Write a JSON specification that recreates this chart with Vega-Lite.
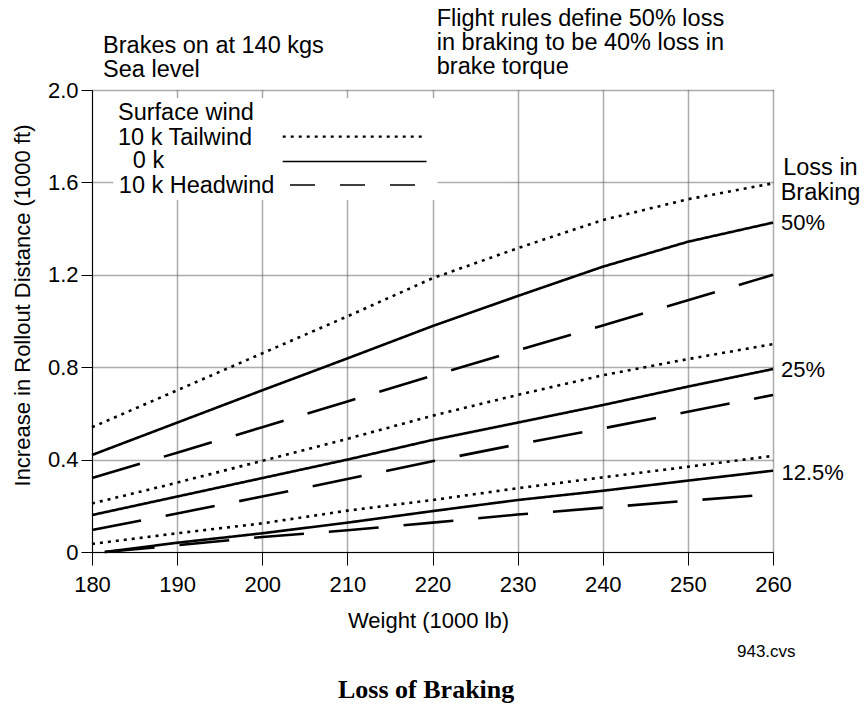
{
  "$schema": "https://vega.github.io/schema/vega-lite/v6.json",
  "autosize": {"type": "none"},
  "padding": {"left": 92, "top": 90, "right": 92, "bottom": 154},
  "width": 681,
  "height": 462,
  "background": "white",
  "config": {
    "view": {"stroke": null},
    "font": "Liberation Sans",
    "axis": {
      "domainColor": "black", "domainWidth": 1,
      "tickColor": "black", "tickWidth": 1,
      "labelColor": "black", "titleColor": "black",
      "labelFont": "Liberation Sans", "titleFont": "Liberation Sans",
      "labelFontSize": 22, "titleFontSize": 22, "titleFontWeight": "normal",
      "grid": true, "gridColor": "#5a5a5a", "gridDash": [1, 1], "gridWidth": 1.5,
      "labelFlush": false, "labelOverlap": false
    }
  },
  "datasets": {
    "curves": [
      {"w": 180, "v": 0.54, "loss": "50%", "wind": "tail"},
      {"w": 190, "v": 0.70, "loss": "50%", "wind": "tail"},
      {"w": 200, "v": 0.86, "loss": "50%", "wind": "tail"},
      {"w": 210, "v": 1.02, "loss": "50%", "wind": "tail"},
      {"w": 220, "v": 1.185, "loss": "50%", "wind": "tail"},
      {"w": 230, "v": 1.315, "loss": "50%", "wind": "tail"},
      {"w": 240, "v": 1.437, "loss": "50%", "wind": "tail"},
      {"w": 250, "v": 1.527, "loss": "50%", "wind": "tail"},
      {"w": 260, "v": 1.596, "loss": "50%", "wind": "tail"},
      {"w": 180, "v": 0.42, "loss": "50%", "wind": "zero"},
      {"w": 190, "v": 0.56, "loss": "50%", "wind": "zero"},
      {"w": 200, "v": 0.70, "loss": "50%", "wind": "zero"},
      {"w": 210, "v": 0.838, "loss": "50%", "wind": "zero"},
      {"w": 220, "v": 0.978, "loss": "50%", "wind": "zero"},
      {"w": 230, "v": 1.108, "loss": "50%", "wind": "zero"},
      {"w": 240, "v": 1.235, "loss": "50%", "wind": "zero"},
      {"w": 250, "v": 1.343, "loss": "50%", "wind": "zero"},
      {"w": 260, "v": 1.426, "loss": "50%", "wind": "zero"},
      {"w": 180, "v": 0.32, "loss": "50%", "wind": "head"},
      {"w": 190, "v": 0.43, "loss": "50%", "wind": "head"},
      {"w": 200, "v": 0.54, "loss": "50%", "wind": "head"},
      {"w": 210, "v": 0.652, "loss": "50%", "wind": "head"},
      {"w": 220, "v": 0.763, "loss": "50%", "wind": "head"},
      {"w": 230, "v": 0.873, "loss": "50%", "wind": "head"},
      {"w": 240, "v": 0.981, "loss": "50%", "wind": "head"},
      {"w": 250, "v": 1.09, "loss": "50%", "wind": "head"},
      {"w": 260, "v": 1.2, "loss": "50%", "wind": "head"},
      {"w": 180, "v": 0.21, "loss": "25%", "wind": "tail"},
      {"w": 190, "v": 0.30, "loss": "25%", "wind": "tail"},
      {"w": 200, "v": 0.395, "loss": "25%", "wind": "tail"},
      {"w": 210, "v": 0.49, "loss": "25%", "wind": "tail"},
      {"w": 220, "v": 0.59, "loss": "25%", "wind": "tail"},
      {"w": 230, "v": 0.68, "loss": "25%", "wind": "tail"},
      {"w": 240, "v": 0.765, "loss": "25%", "wind": "tail"},
      {"w": 250, "v": 0.835, "loss": "25%", "wind": "tail"},
      {"w": 260, "v": 0.90, "loss": "25%", "wind": "tail"},
      {"w": 180, "v": 0.16, "loss": "25%", "wind": "zero"},
      {"w": 190, "v": 0.24, "loss": "25%", "wind": "zero"},
      {"w": 200, "v": 0.32, "loss": "25%", "wind": "zero"},
      {"w": 210, "v": 0.40, "loss": "25%", "wind": "zero"},
      {"w": 220, "v": 0.485, "loss": "25%", "wind": "zero"},
      {"w": 230, "v": 0.56, "loss": "25%", "wind": "zero"},
      {"w": 240, "v": 0.636, "loss": "25%", "wind": "zero"},
      {"w": 250, "v": 0.716, "loss": "25%", "wind": "zero"},
      {"w": 260, "v": 0.792, "loss": "25%", "wind": "zero"},
      {"w": 180, "v": 0.095, "loss": "25%", "wind": "head"},
      {"w": 190, "v": 0.167, "loss": "25%", "wind": "head"},
      {"w": 200, "v": 0.24, "loss": "25%", "wind": "head"},
      {"w": 210, "v": 0.316, "loss": "25%", "wind": "head"},
      {"w": 220, "v": 0.393, "loss": "25%", "wind": "head"},
      {"w": 230, "v": 0.466, "loss": "25%", "wind": "head"},
      {"w": 240, "v": 0.535, "loss": "25%", "wind": "head"},
      {"w": 250, "v": 0.607, "loss": "25%", "wind": "head"},
      {"w": 260, "v": 0.68, "loss": "25%", "wind": "head"},
      {"w": 180, "v": 0.035, "loss": "12.5%", "wind": "tail"},
      {"w": 190, "v": 0.081, "loss": "12.5%", "wind": "tail"},
      {"w": 200, "v": 0.124, "loss": "12.5%", "wind": "tail"},
      {"w": 210, "v": 0.179, "loss": "12.5%", "wind": "tail"},
      {"w": 220, "v": 0.225, "loss": "12.5%", "wind": "tail"},
      {"w": 230, "v": 0.276, "loss": "12.5%", "wind": "tail"},
      {"w": 240, "v": 0.323, "loss": "12.5%", "wind": "tail"},
      {"w": 250, "v": 0.369, "loss": "12.5%", "wind": "tail"},
      {"w": 260, "v": 0.416, "loss": "12.5%", "wind": "tail"},
      {"w": 181.5, "v": 0.0, "loss": "12.5%", "wind": "zero"},
      {"w": 190, "v": 0.04, "loss": "12.5%", "wind": "zero"},
      {"w": 200, "v": 0.081, "loss": "12.5%", "wind": "zero"},
      {"w": 210, "v": 0.127, "loss": "12.5%", "wind": "zero"},
      {"w": 220, "v": 0.177, "loss": "12.5%", "wind": "zero"},
      {"w": 230, "v": 0.225, "loss": "12.5%", "wind": "zero"},
      {"w": 240, "v": 0.265, "loss": "12.5%", "wind": "zero"},
      {"w": 250, "v": 0.309, "loss": "12.5%", "wind": "zero"},
      {"w": 260, "v": 0.352, "loss": "12.5%", "wind": "zero"},
      {"w": 181.5, "v": 0.0, "loss": "12.5%", "wind": "head"},
      {"w": 190, "v": 0.029, "loss": "12.5%", "wind": "head"},
      {"w": 200, "v": 0.065, "loss": "12.5%", "wind": "head"},
      {"w": 210, "v": 0.094, "loss": "12.5%", "wind": "head"},
      {"w": 220, "v": 0.127, "loss": "12.5%", "wind": "head"},
      {"w": 230, "v": 0.162, "loss": "12.5%", "wind": "head"},
      {"w": 240, "v": 0.192, "loss": "12.5%", "wind": "head"},
      {"w": 250, "v": 0.222, "loss": "12.5%", "wind": "head"},
      {"w": 260, "v": 0.25, "loss": "12.5%", "wind": "head"}
    ]
  },
  "layer": [
    {
      "data": {"values": [{"x1": 182.5, "x2": 220.6, "y1": 1.524, "y2": 1.965}]},
      "mark": {"type": "rect", "fill": "white", "stroke": null},
      "encoding": {
        "x": {"field": "x1", "type": "quantitative", "scale": {"domain": [180, 260], "nice": false, "zero": false},
          "axis": {"title": "Weight (1000 lb)", "values": [180, 190, 200, 210, 220, 230, 240, 250, 260],
            "tickSize": 13, "labelPadding": 9, "titleX": 336, "titleY": 75, "titleBaseline": "alphabetic", "titleAlign": "center", "titleAnchor": null}},
        "x2": {"field": "x2"},
        "y": {"field": "y1", "type": "quantitative", "scale": {"domain": [0, 2], "nice": false, "zero": false},
          "axis": {"title": "Increase in Rollout Distance (1000 ft)", "values": [0, 0.4, 0.8, 1.2, 1.6, 2.0],
            "labelExpr": "datum.value == 0 ? '0' : format(datum.value, '.1f')",
            "tickSize": 11, "labelPadding": 3, "titleX": -63, "titleY": 215, "titleAngle": -90,
            "titleBaseline": "alphabetic", "titleAlign": "center", "titleAnchor": null}},
        "y2": {"field": "y2"}
      }
    },
    {
      "data": {"name": "curves"},
      "mark": {"type": "line", "color": "black", "strokeWidth": 2.6, "strokeCap": "butt"},
      "encoding": {
        "x": {"field": "w", "type": "quantitative"},
        "y": {"field": "v", "type": "quantitative"},
        "detail": {"field": "loss"},
        "strokeDash": {"field": "wind", "type": "nominal", "legend": null,
          "scale": {"domain": ["tail", "zero", "head"], "range": [[3, 5], [1, 0], [50, 25]]}}
      }
    },
    {
      "data": {"values": [{"x1": 202.4, "x2": 219.3, "y": 1.798}]},
      "mark": {"type": "rule", "color": "black", "strokeWidth": 2.4, "strokeDash": [3, 5]},
      "encoding": {"x": {"field": "x1", "type": "quantitative"}, "x2": {"field": "x2"}, "y": {"field": "y", "type": "quantitative"}}
    },
    {
      "data": {"values": [{"x1": 202.4, "x2": 219.3, "y": 1.690}]},
      "mark": {"type": "rule", "color": "black", "strokeWidth": 1.5},
      "encoding": {"x": {"field": "x1", "type": "quantitative"}, "x2": {"field": "x2"}, "y": {"field": "y", "type": "quantitative"}}
    },
    {
      "data": {"values": [{"x1": 203.26, "x2": 218.1, "y": 1.589}]},
      "mark": {"type": "rule", "color": "black", "strokeWidth": 1.5, "strokeDash": [25, 25]},
      "encoding": {"x": {"field": "x1", "type": "quantitative"}, "x2": {"field": "x2"}, "y": {"field": "y", "type": "quantitative"}}
    },
    {
      "data": {"values": [
        {"x": 183.05, "y": 1.870, "t": "Surface wind"},
        {"x": 183.05, "y": 1.762, "t": "10 k Tailwind"},
        {"x": 184.8, "y": 1.662, "t": "0 k"},
        {"x": 183.15, "y": 1.555, "t": "10 k Headwind"},
        {"x": 181.3, "y": 2.159, "t": "Brakes on at 140 kgs"},
        {"x": 181.3, "y": 2.055, "t": "Sea level"},
        {"x": 220.5, "y": 2.275, "t": "Flight rules define 50% loss"},
        {"x": 220.5, "y": 2.173, "t": "in braking to be 40% loss in"},
        {"x": 220.5, "y": 2.071, "t": "brake torque"},
        {"x": 261.2, "y": 1.632, "t": "Loss in"},
        {"x": 260.9, "y": 1.522, "t": "Braking"}
      ]},
      "mark": {"type": "text", "align": "left", "baseline": "alphabetic", "fontSize": 23.5, "font": "Liberation Sans", "color": "black"},
      "encoding": {"x": {"field": "x", "type": "quantitative"}, "y": {"field": "y", "type": "quantitative"}, "text": {"field": "t"}}
    },
    {
      "data": {"values": [
        {"x": 260.94, "y": 1.394, "t": "50%"},
        {"x": 260.94, "y": 0.759, "t": "25%"},
        {"x": 261.0, "y": 0.312, "t": "12.5%"}
      ]},
      "mark": {"type": "text", "align": "left", "baseline": "alphabetic", "fontSize": 22, "font": "Liberation Sans", "color": "black"},
      "encoding": {"x": {"field": "x", "type": "quantitative"}, "y": {"field": "y", "type": "quantitative"}, "text": {"field": "t"}}
    },
    {
      "data": {"values": [{"x": 255.77, "y": -0.453, "t": "943.cvs"}]},
      "mark": {"type": "text", "align": "left", "baseline": "alphabetic", "fontSize": 17, "font": "Liberation Sans", "color": "black"},
      "encoding": {"x": {"field": "x", "type": "quantitative"}, "y": {"field": "y", "type": "quantitative"}, "text": {"field": "t"}}
    },
    {
      "data": {"values": [{"x": 208.9, "y": -0.632, "t": "Loss of Braking"}]},
      "mark": {"type": "text", "align": "left", "baseline": "alphabetic", "fontSize": 26, "fontWeight": "bold", "font": "Liberation Serif", "color": "black"},
      "encoding": {"x": {"field": "x", "type": "quantitative"}, "y": {"field": "y", "type": "quantitative"}, "text": {"field": "t"}}
    }
  ]
}
